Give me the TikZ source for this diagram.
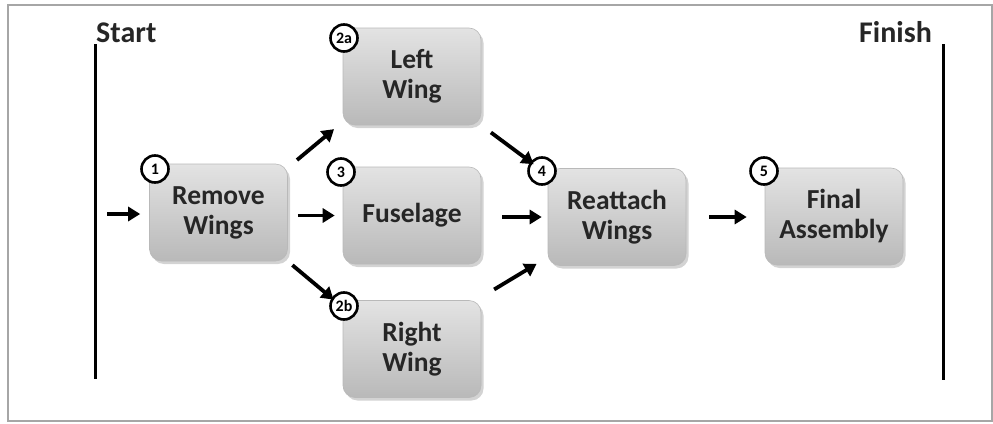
\documentclass[tikz,border=0pt]{standalone}
\usepackage{fontspec}
\setmainfont{Carlito}
\usetikzlibrary{arrows.meta,shadows}
\begin{document}
\begin{tikzpicture}[x=1pt,y=-1pt,
  task/.style={rounded corners=12pt, minimum width=138pt, minimum height=97pt,
    top color=gray!22, bottom color=gray!55, draw=gray!55, line width=0.6pt,
    drop shadow={shadow xshift=2.5pt, shadow yshift=-3pt, opacity=0.35},
    align=center, font=\fontsize{27.5}{30}\selectfont\bfseries, text=black!85, inner sep=0pt},
  num/.style={circle, draw=black, line width=2.6pt, fill=white, minimum size=27pt, inner sep=0pt,
    font=\fontsize{16}{16}\selectfont\bfseries},
  flow/.style={line width=3.8pt, -{Triangle[length=12pt,width=14pt]}},
  bar/.style={line width=3pt},
  lbl/.style={font=\fontsize{30}{30}\selectfont\bfseries, text=black!85, inner sep=0pt}
]
\useasboundingbox (0,0) rectangle (993,423);
\draw[gray!70, line width=2pt] (8,5) rectangle (992,421);

\node[lbl, anchor=base west] (start) at (96,42) {Start};
\node[lbl, anchor=base west] (finish) at (859,42) {Finish};
\coordinate (s1) at (95,44);
\coordinate (s2) at (95,379);
\coordinate (f1) at (943,44);
\coordinate (f2) at (943,380);
\draw[bar] (s1) -- (s2);
\draw[bar] (f1) -- (f2);

\node[task] (b1) at (218.5,212.5) {Remove\\Wings};
\node[task] (b2a) at (412,76.5) {Left\\Wing};
\node[task] (b3) at (412,215.5) {Fuselage};
\node[task] (b2b) at (412,349) {Right\\Wing};
\node[task] (b4) at (617,217) {Reattach\\Wings};
\node[task] (b5) at (834,216.5) {Final\\Assembly};

\node[num] (n1) at (155,169) {1};
\node[num] (n2a) at (344,38) {2a};
\node[num] (n3) at (341,172) {3};
\node[num] (n2b) at (344,306) {2b};
\node[num] (n4) at (542,171) {4};
\node[num] (n5) at (764,171) {5};

\coordinate (in) at (95,214);
\draw[flow, shorten <=12pt, shorten >=9pt] (in) -- (b1.west |- in);
\draw[flow, shorten <=10pt, shorten >=8pt] (b1.east |- b3) -- (b3.west);
\draw[flow, shorten <=12pt, shorten >=6pt] ([yshift=-4pt]b1.north east) -- ([xshift=-4pt]b2a.south west);
\draw[flow, shorten <=6pt, shorten >=4pt] ([yshift=0pt]b1.south east) -- ([xshift=-6pt,yshift=-2pt]b2b.north west);
\draw[flow, shorten <=12pt, shorten >=10pt] (b2a.south east) -- ([xshift=-6pt,yshift=-2pt]b4.north west);
\draw[flow, shorten <=21pt, shorten >=6pt] (b3.east |- b4) -- (b4.west);
\draw[flow, shorten <=15pt, shorten >=6pt] ([yshift=3pt]b2b.north east) -- ([xshift=-6pt,yshift=5pt]b4.south west);
\draw[flow, shorten <=23pt, shorten >=18pt] (b4.east) -- (b5.west |- b4);
\end{tikzpicture}
\end{document}
